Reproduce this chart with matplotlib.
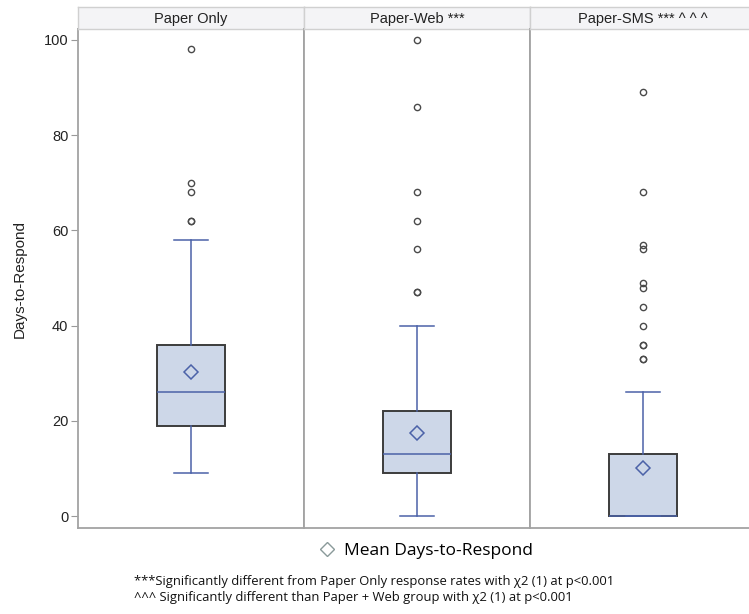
import matplotlib.pyplot as plt
from matplotlib.lines import Line2D

# === DATA ===
groups = ['Paper Only', 'Paper-Web ***', 'Paper-SMS *** ^ ^ ^']
q1 = [19, 9, 0]
medians = [26, 13, 0]
q3 = [36, 22, 13]
whisk_lo = [9, 0, 0]
whisk_hi = [58, 40, 26]
means = [30.2, 17.5, 10]
outliers = [
    [62, 62, 68, 70, 98],
    [47, 47, 56, 62, 68, 86, 100],
    [33, 33, 36, 36, 40, 44, 48, 49, 56, 57, 68, 89],
]
yticks = [0, 20, 40, 60, 80, 100]
footnotes = ["***Significantly different from Paper Only response rates with \u03c72 (1) at p<0.001",
             "^^^ Significantly different than Paper + Web group with \u03c72 (1) at p<0.001"]

plt.rcParams['font.family'] = ['Liberation Sans', 'DejaVu Sans']

W, H = 749, 614
fig = plt.figure(figsize=(W / 100, H / 100), dpi=100)

box_fill = '#cdd7e8'
box_edge = '#3c3c3c'
blue = '#4b62a8'
frame = '#a3a3a3'

# panel geometry in pixels
left, pw = 78, 226
top_hdr, hdr_bot, bottom = 7, 29, 528

axes = []
for i, name in enumerate(groups):
    x0 = left + i * pw
    ax = fig.add_axes([x0 / W, (H - bottom) / H, pw / W, (bottom - hdr_bot) / H],
                      sharey=axes[0] if axes else None)
    stats = [dict(med=medians[i], q1=q1[i], q3=q3[i], whislo=whisk_lo[i],
                  whishi=whisk_hi[i], mean=means[i], fliers=outliers[i])]
    ax.bxp(stats, positions=[0], widths=0.6, showmeans=True, patch_artist=True,
           boxprops=dict(facecolor=box_fill, edgecolor=box_edge, linewidth=1.4),
           medianprops=dict(color=blue, linewidth=1.1),
           whiskerprops=dict(color=blue, linewidth=1.1),
           capprops=dict(color=blue, linewidth=1.1),
           capwidths=0.3,
           meanprops=dict(marker='D', markerfacecolor='none', markeredgecolor=blue,
                          markersize=7, markeredgewidth=1.1),
           flierprops=dict(marker='o', markerfacecolor='none', markeredgecolor='#4a4a4a',
                           markersize=4.5, markeredgewidth=1.0))
    ax.set_xlim(-1, 1)
    ax.set_ylim(-2.5, 102.3)
    ax.set_xticks([])
    for s in ax.spines.values():
        s.set_color(frame)
        s.set_linewidth(1.3)
    if i == 0:
        ax.set_yticks(yticks)
        ax.tick_params(axis='y', labelsize=10.5, colors='#999999', length=5, width=0.8, pad=2)
        for t in ax.get_yticklabels():
            t.set_color('#222222')
        ax.set_ylabel('Days-to-Respond', fontsize=11, color='#222222', labelpad=12)
    else:
        ax.tick_params(axis='y', left=False, labelleft=False)
    axes.append(ax)

    # header strip
    hax = fig.add_axes([x0 / W, (H - hdr_bot) / H, pw / W, (hdr_bot - top_hdr) / H])
    hax.set_facecolor('#f4f4f6')
    hax.set_xticks([])
    hax.set_yticks([])
    for s in hax.spines.values():
        s.set_color('#d0d0d0')
        s.set_linewidth(1.0)
    hax.text(0.5, 0.45, name, ha='center', va='center', fontsize=10.5, color='#222222',
             transform=hax.transAxes)

# legend
handle = Line2D([], [], marker='D', linestyle='none', markerfacecolor='none',
                markeredgecolor='#8a9a9a', markersize=7, markeredgewidth=1.0)
fig.legend([handle], ['Mean Days-to-Respond'], loc='center',
           bbox_to_anchor=(425 / W, 1 - 551 / H), frameon=False,
           prop={'family': ['Open Sans', 'DejaVu Sans'], 'size': 12.5},
           handletextpad=0.35, handlelength=1.2)

for j, line in enumerate(footnotes):
    fig.text(134 / W, 1 - (581 + j * 16) / H, line, fontsize=9.4, color='#111111',
             ha='left', va='center', family=['Open Sans', 'DejaVu Sans'])

fig.savefig('out.png', dpi=100)
